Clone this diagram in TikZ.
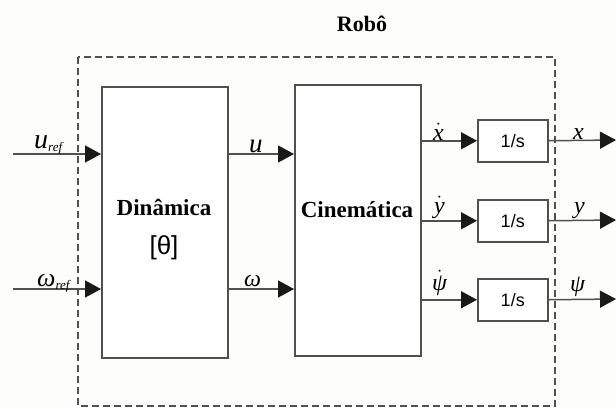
\documentclass[tikz,border=0pt]{standalone}
\usepackage{fontspec}
\setmainfont{Liberation Serif}
\newfontfamily\arialf{Liberation Sans}
\usetikzlibrary{arrows.meta}
\definecolor{lc}{HTML}{505050}
\definecolor{bg}{HTML}{FDFDFB}
\newcommand\dotacc[1]{$\dot{\hbox{\itshape #1}}$}
\newcommand\sref[1]{\textit{#1}\raisebox{-0.3ex}{\fontsize{13}{13}\selectfont\itshape ref}}
\begin{document}
\begin{tikzpicture}[x=1pt,y=-1pt,
  blk/.style={draw=lc,line width=1.5pt,fill=white,inner sep=0pt,anchor=north west},
  arr/.style={draw=lc,line width=1.5pt,-{Triangle[length=16pt,width=17pt,color=black!90]}},
  lbl/.style={font=\fontsize{24}{24}\selectfont\itshape,inner sep=0pt,anchor=base west},
  btxt/.style={font=\fontsize{23}{23}\selectfont\bfseries,inner sep=0pt},
  ibox/.style={blk,minimum width=70pt,minimum height=42pt,font=\arialf\fontsize{18}{18}\selectfont}]
\fill[bg] (0,0) rectangle (616,408);
\useasboundingbox (0,0) rectangle (616,408);
% dashed robot box
\draw[lc,line width=1.2pt,dash pattern=on 7pt off 4pt] (78,57) rectangle (555,406);
\node[btxt,font=\fontsize{22}{22}\selectfont\bfseries] (title) at (362,24) {Robô};
% main blocks
\node[blk,minimum width=126pt,minimum height=271pt] (din) at (101,86) {};
\node[blk,minimum width=126pt,minimum height=271pt] (cin) at (294,84) {};
\node[btxt] (dintxt) at (164,207) {Dinâmica};
\node[inner sep=0pt,font=\arialf\fontsize{26}{26}\selectfont] (theta) at (164,248) {[θ]};
\node[btxt] (cintxt) at (357,210) {Cinemática};
% integrators
\node[ibox] (ix) at (477,119) {1/s};
\node[ibox] (iy) at (477,199) {1/s};
\node[ibox] (ip) at (477,278) {1/s};
% free ends
\coordinate (uin) at (13,154);
\coordinate (win) at (13,289);
\coordinate (xo) at (616,140);
\coordinate (yo) at (616,220);
\coordinate (po) at (616,299);
% inputs
\draw[arr] (uin) -- (uin -| din.west);
\draw[arr] (win) -- (win -| din.west);
\node[lbl,font=\fontsize{28}{28}\selectfont\itshape] (lu) at (34,148) {\sref{u}};
\node[lbl,font=\fontsize{26}{26}\selectfont\itshape] (lw) at (37,286) {\sref{ω}};
% dyn -> kin
\draw[arr] (din.east |- uin) -- (cin.west |- uin);
\draw[arr] (din.east |- win) -- (cin.west |- win);
\node[lbl,font=\fontsize{27}{27}\selectfont\itshape] (lu2) at (249,152) {u};
\node[lbl] (lw2) at (244,286) {ω};
% kin -> integrators
\draw[arr] (cin.east |- ix.west) -- (ix.west);
\draw[arr] (cin.east |- iy.west) -- (iy.west);
\draw[arr] (cin.east |- ip.west) -- (ip.west);
\node[lbl] (ldx) at (433,140) {\dotacc{x}};
\node[lbl] (ldy) at (434,213) {\dotacc{y}};
\node[lbl] (ldp) at (432,290) {\dotacc{ψ}};
% outputs
\draw[arr] (ix.east) -- (xo);
\draw[arr] (iy.east) -- (yo);
\draw[arr] (ip.east) -- (po);
\node[lbl] (lx) at (573,139) {x};
\node[lbl] (ly) at (574,213) {y};
\node[lbl] (lp) at (570,291) {ψ};
\end{tikzpicture}
\end{document}
